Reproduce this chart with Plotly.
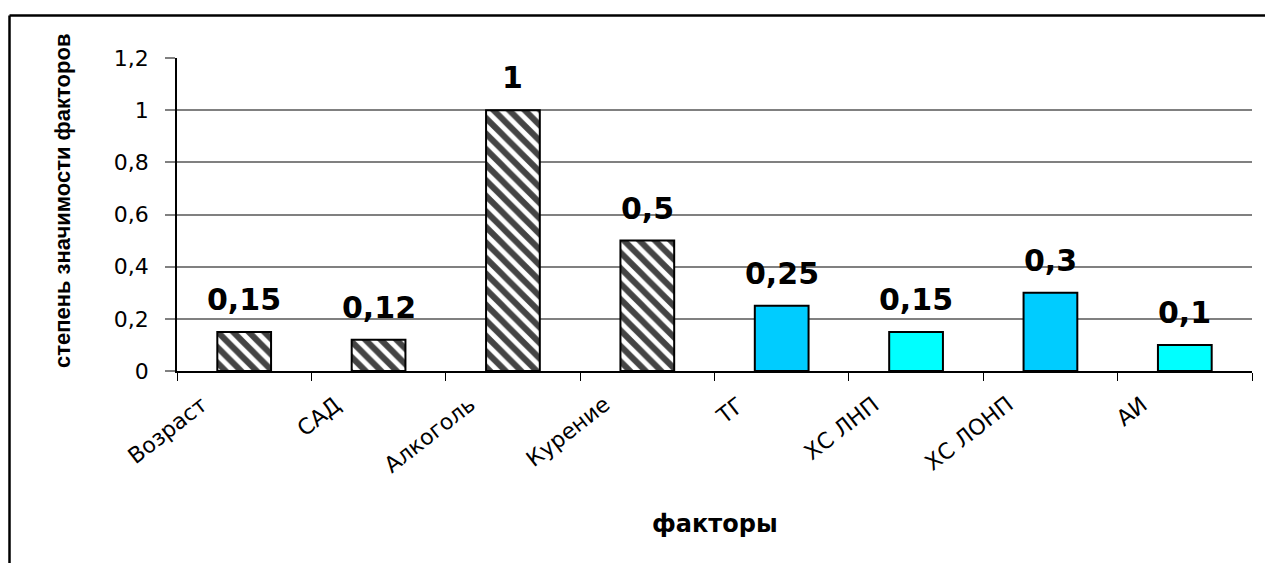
import plotly.graph_objects as go

# Risk factors and their relative significance
factors = ["Возраст", "САД", "Алкоголь", "Курение", "ТГ", "ХС ЛНП", "ХС ЛОНП", "АИ"]
significance = [0.15, 0.12, 1.0, 0.5, 0.25, 0.15, 0.3, 0.1]
hatched = [True, True, True, True, False, False, False, False]
fill_colors = ["white", "white", "white", "white", "#00CCFF", "#00FFFF", "#00CCFF", "#00FFFF"]

y_ticks = [0, 0.2, 0.4, 0.6, 0.8, 1.0, 1.2]
y_ticktext = [f"{t:g}".replace(".", ",") for t in y_ticks]


def fmt(v):
    return f"{v:g}".replace(".", ",")


fig = go.Figure()
fig.add_trace(go.Bar(
    x=factors,
    y=significance,
    width=0.4,
    marker=dict(
        color=fill_colors,
        line=dict(color="black", width=2),
        pattern=dict(
            shape=["\\" if h else "" for h in hatched],
            fgcolor="black",
            fgopacity=1,
            bgcolor="white",
            size=11,
            solidity=0.55,
            fillmode="overlay",
        ),
    ),
    hoverinfo="x+y",
))

# value labels above each bar
annotations = [
    dict(x=f, y=v, xref="x", yref="y", text=fmt(v), showarrow=False,
         yanchor="bottom", yshift=13,
         font=dict(family="DejaVu Sans", size=30, color="black", weight="bold"))
    for f, v in zip(factors, significance)
]

# slanted category labels under the axis
annotations += [
    dict(x=f, y=0, xref="x", yref="y", text=f, showarrow=False,
         textangle=-38, xanchor="right", yanchor="top", xshift=-30, yshift=-18,
         font=dict(family="DejaVu Sans", size=22, color="black"))
    for f in factors
]

# axis titles
annotations.append(dict(
    x=0.5, y=-0.49, xref="paper", yref="paper", text="<b>факторы</b>",
    showarrow=False, xanchor="center", yanchor="middle",
    font=dict(family="DejaVu Sans", size=24, color="black")))
annotations.append(dict(
    x=-0.107, y=0.546, xref="paper", yref="paper", text="<b>степень значимости факторов</b>",
    showarrow=False, textangle=-90, xanchor="center", yanchor="middle",
    font=dict(family="Liberation Sans", size=22, color="black")))

# outer frame (left and top edges)
x_left = (9.5 - 177) / 1075
y_top = (371 - 15.5) / 313
shapes = [
    dict(type="line", xref="paper", yref="paper", x0=x_left, x1=x_left, y0=-1, y1=y_top,
         line=dict(color="black", width=2.5)),
    dict(type="line", xref="paper", yref="paper", x0=x_left, x1=1.2, y0=y_top, y1=y_top,
         line=dict(color="black", width=2.5)),
]

fig.update_layout(
    width=1265, height=563,
    margin=dict(l=177, r=13, t=58, b=192),
    paper_bgcolor="white", plot_bgcolor="white",
    showlegend=False,
    bargap=0.6,
    annotations=annotations,
    shapes=shapes,
    font=dict(family="DejaVu Sans", color="black"),
)
fig.update_xaxes(
    range=[-0.5, len(factors) - 0.5], autorange=False,
    showline=True, linecolor="black", linewidth=1.5,
    ticks="outside", tickson="boundaries", ticklen=8, tickcolor="black", tickwidth=1,
    showticklabels=False,
    showgrid=False,
)
fig.update_yaxes(
    range=[0, 1.2], autorange=False, tickvals=y_ticks, ticktext=y_ticktext,
    showline=True, linecolor="black", linewidth=1.5,
    ticks="outside", ticklen=10, tickcolor="#808080", tickwidth=1.5,
    ticklabelstandoff=12,
    tickfont=dict(family="DejaVu Sans", size=22, color="black"),
    showgrid=True, gridcolor="#808080", gridwidth=1.5,
    zeroline=False,
)

fig.write_html("out.html")
